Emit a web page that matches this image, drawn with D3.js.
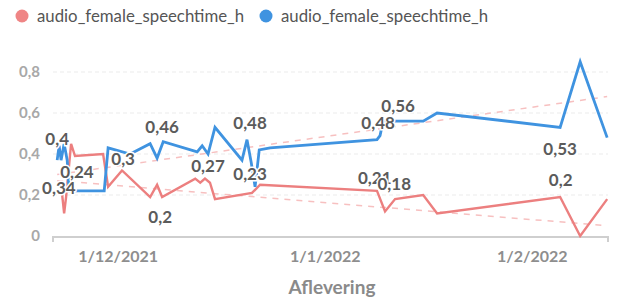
<!DOCTYPE html>
<html><head><meta charset="utf-8">
<script src="https://cdn.jsdelivr.net/npm/d3@7"></script>
<style>
html,body{margin:0;padding:0;background:#fff;}
svg{display:block;font-family:Lato,"Open Sans",sans-serif;}
</style></head>
<body><svg id="c" width="621" height="298"></svg>
<script>
// ---- data ----
const seriesNames = ["audio_female_speechtime_h", "audio_female_speechtime_h"];
const redDates = ["2021-11-22T15:00","2021-11-22T22:00","2021-11-23T05:00","2021-11-23T23:00","2021-11-24T13:00","2021-11-28T18:00","2021-11-29T12:00","2021-12-01T14:00","2021-12-05T19:00","2021-12-06T20:00","2021-12-07T14:00","2021-12-12T13:00","2021-12-13T07:00","2021-12-14T00:00","2021-12-14T18:00","2021-12-15T12:00","2021-12-21T01:00","2021-12-22T06:00","2022-01-08T18:00","2022-01-09T23:00","2022-01-11T11:00","2022-01-15T16:00","2022-01-17T18:00","2022-02-05T04:00","2022-02-08T04:00","2022-02-12T05:00"];
const redValues = [0.20,0.11,0.19,0.45,0.39,0.40,0.24,0.32,0.19,0.25,0.19,0.28,0.26,0.28,0.26,0.18,0.21,0.25,0.22,0.12,0.18,0.20,0.11,0.19,0.00,0.18];
const blueDates = ["2021-11-21T21:00","2021-11-22T04:00","2021-11-22T11:00","2021-11-22T22:00","2021-11-23T09:00","2021-11-23T16:00","2021-11-28T22:00","2021-11-29T12:00","2021-12-02T19:00","2021-12-05T19:00","2021-12-06T20:00","2021-12-07T18:00","2021-12-12T20:00","2021-12-13T14:00","2021-12-14T11:00","2021-12-15T12:00","2021-12-19T13:00","2021-12-20T07:00","2021-12-20T22:00","2021-12-21T12:00","2021-12-22T03:00","2021-12-23T18:00","2022-01-08T18:00","2022-01-09T05:00","2022-01-09T16:00","2022-01-15T16:00","2022-01-17T18:00","2022-02-05T04:00","2022-02-08T04:00","2022-02-12T05:00"];
const blueValues = [0.37,0.44,0.37,0.45,0.37,0.22,0.22,0.43,0.40,0.45,0.38,0.46,0.41,0.44,0.40,0.53,0.37,0.47,0.36,0.24,0.42,0.43,0.47,0.49,0.56,0.56,0.60,0.53,0.85,0.48];
const trendDates = ["2021-11-21T21:00","2022-02-12T05:00"];
const redTrend = [0.27, 0.05];
const blueTrend = [0.30, 0.68];
const yTicks = [0, 0.2, 0.4, 0.6, 0.8];
const xTickDates = ["2021-12-01","2022-01-01","2022-02-01"];
const xDomain = ["2021-11-21T06:00","2022-02-12T08:00"];
const xTitle = "Aflevering";
// data labels: date, value, placement
const labelDates = ["2021-11-21T21:00","2021-11-22T03:00","2021-11-24T20:00","2021-12-01T18:00","2021-12-07T14:00","2021-12-07T07:00","2021-12-14T11:00","2021-12-20T18:00","2021-12-20T18:00","2022-01-08T22:00","2022-01-11T22:00","2022-01-08T10:00","2022-01-11T08:00","2022-02-05T04:00","2022-02-05T06:00"];
const labelValues = [0.4,0.34,0.24,0.3,0.46,0.2,0.27,0.48,0.23,0.48,0.56,0.21,0.18,0.53,0.2];
const labelPlace = ["a","b","a","a","a","b","a","a","a","a","a","a","a","b","a"];

// ---- drawing ----
const svg = d3.select("#c");
const parse = d3.utcParse("%Y-%m-%dT%H:%M");
const parseD = d3.utcParse("%Y-%m-%d");
const x = d3.scaleUtc().domain(xDomain.map(parse)).range([53, 608]);
const y = d3.scaleLinear().domain([0, 0.8]).range([236, 72]);
const fmt = v => String(+v.toFixed(2)).replace(".", ",");

// gridlines
svg.append("g").selectAll("line").data(yTicks.filter(d => d > 0)).join("line")
  .attr("x1", 53).attr("x2", 608).attr("y1", d => y(d)).attr("y2", d => y(d))
  .attr("stroke", "#ebebeb").attr("stroke-width", 1).attr("stroke-dasharray", "4,3");

// y labels
svg.append("g").selectAll("text").data(yTicks).join("text")
  .attr("x", 40).attr("y", d => y(d)).attr("dy", "0.35em").attr("text-anchor", "end")
  .attr("font-size", 15).attr("font-weight", 700).attr("fill", "#a8a8a8")
  .text(d => fmt(d));

// x axis
svg.append("path").attr("d", `M53,242V237H608V242`).attr("fill", "none")
  .attr("stroke", "#cfcfcf").attr("stroke-width", 2);
svg.append("g").selectAll("text").data(xTickDates.map(parseD)).join("text")
  .attr("x", d => x(d)).attr("y", 256).attr("dy", "0.35em").attr("text-anchor", "middle")
  .attr("font-size", 16).attr("font-weight", 700).attr("fill", "#8e8e8e")
  .text(d3.utcFormat("%-d/%-m/%Y"));
svg.append("text").attr("x", 332).attr("y", 287).attr("dy", "0.35em").attr("text-anchor", "middle")
  .attr("font-size", 19).attr("font-weight", 700).attr("fill", "#8a8a8a").text(xTitle);

// trend lines
const trendLine = d3.line().x(d => x(d[0])).y(d => y(d[1]));
[redTrend, blueTrend].forEach(t => {
  svg.append("path").attr("d", trendLine(trendDates.map((d, i) => [parse(d), t[i]])))
    .attr("fill", "none").attr("stroke", "#f7c0c0").attr("stroke-width", 1.5)
    .attr("stroke-dasharray", "6,6");
});

// series lines
const line = d3.line().x(d => x(d[0])).y(d => y(d[1]));
svg.append("path").attr("d", line(redDates.map((d, i) => [parse(d), redValues[i]])))
  .attr("fill", "none").attr("stroke", "#ec7f7f").attr("stroke-width", 2.4).attr("stroke-linejoin", "miter");
svg.append("path").attr("d", line(blueDates.map((d, i) => [parse(d), blueValues[i]])))
  .attr("fill", "none").attr("stroke", "#3f93e0").attr("stroke-width", 2.8).attr("stroke-linejoin", "miter");

// data labels
svg.append("g").selectAll("text").data(labelDates.map((d, i) => ({d: parse(d), v: labelValues[i], p: labelPlace[i]}))).join("text")
  .attr("x", d => x(d.d)).attr("y", d => y(d.v) + (d.p === "a" ? -15 : 22)).attr("dy", "0.35em")
  .attr("text-anchor", "middle").attr("font-size", 17).attr("font-weight", 700)
  .attr("fill", "#5b5b5b").attr("stroke", "#fff").attr("stroke-width", 3).attr("paint-order", "stroke")
  .text(d => fmt(d.v));

// legend
const legendColors = ["#ef8585", "#3f93e0"];
const legendX = [22, 266];
const lg = svg.append("g").selectAll("g").data(seriesNames).join("g")
  .attr("transform", (d, i) => `translate(${legendX[i]},16)`);
lg.append("circle").attr("r", 6.5).attr("fill", (d, i) => legendColors[i]);
lg.append("text").attr("x", 15).attr("dy", "0.35em").attr("font-size", 16.8)
  .attr("fill", "#555").text(d => d);
</script></body></html>
